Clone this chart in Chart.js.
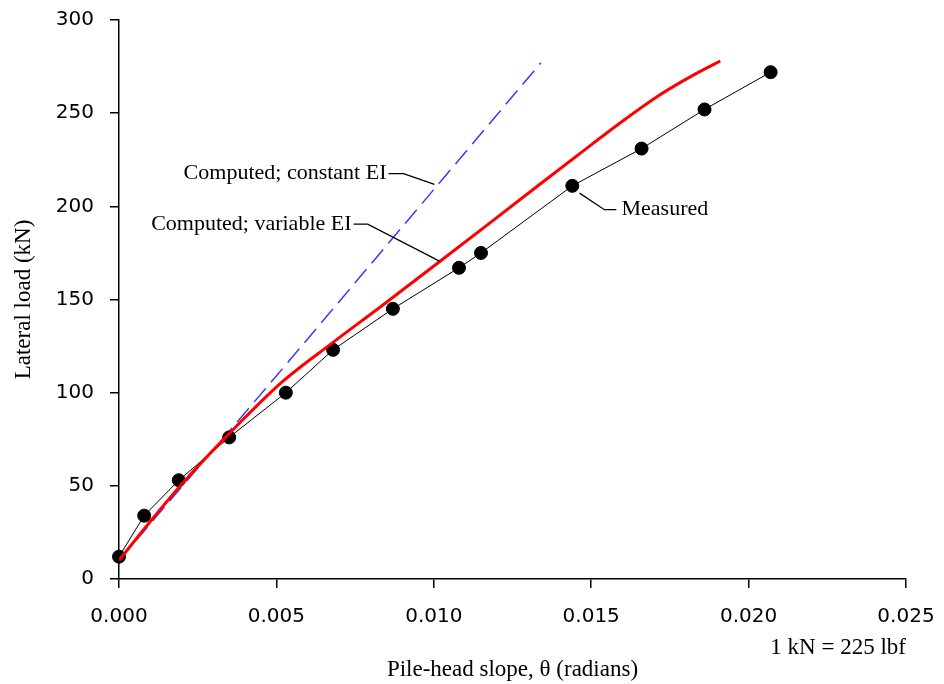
<!DOCTYPE html>
<html>
<head>
<meta charset="utf-8">
<script src="https://cdn.jsdelivr.net/npm/chart.js@4.4.1/dist/chart.umd.min.js"></script>
<style>
    html, body { margin: 0; padding: 0; background: #fff; }
    #wrap { width: 944px; height: 684px; }
</style>
</head>
<body>
<div id="wrap"><canvas id="myChart" width="944" height="684"></canvas></div>
<script>
// Mesures (points noirs)
const measuredSlope = [0, 0.0008, 0.0019, 0.0035, 0.0053, 0.0068, 0.0087, 0.0108, 0.0115, 0.0144, 0.0166, 0.0186, 0.0207];
const measuredLoad = [12, 34, 53, 76, 100, 123, 145, 167, 175, 211, 231, 252, 272];

// Calcul EI variable (courbe rouge)
const variableSlope = [0, 0.001, 0.002, 0.0035, 0.0052, 0.0068, 0.0083, 0.0102, 0.013, 0.015, 0.0161, 0.0172, 0.0182, 0.0191];
const variableLoad = [10, 31, 51, 78, 106, 127, 146, 170.5, 207, 233, 247, 260, 270, 278];

// Calcul EI constant (tirets bleus)
const constantSlope = [0, 0.005, 0.0134];
const constantLoad = [10, 109, 277];

// Graduations
const xTicks = [0, 0.005, 0.010, 0.015, 0.020, 0.025];
const yTicks = [0, 50, 100, 150, 200, 250, 300];

// Étiquettes avec leur trait de rappel (coordonnées en valeurs du graphique)
const callouts = [
    { text: 'Computed; constant EI', align: 'right', at: [0.00856, 217.6],
      leader: [[0.00856, 217.6], [0.00904, 217.6], [0.01002, 211.8]] },
    { text: 'Computed; variable EI', align: 'right', at: [0.00745, 190.4],
      leader: [[0.00745, 190.4], [0.0079, 190.4], [0.01018, 170.6]] },
    { text: 'Measured', align: 'left', at: [0.0159, 198.2],
      leader: [[0.01463, 207.1], [0.01542, 198.2], [0.0158, 198.2]] }
];

const SERIF = '"Liberation Serif", "Times New Roman", serif';
const SANS = '"DejaVu Sans", sans-serif';

function toPoints(xs, ys) {
    return xs.map((v, i) => ({ x: v, y: ys[i] }));
}

const calloutPlugin = {
    id: 'callouts',
    afterDatasetsDraw(chart) {
        const { ctx, scales: { x, y } } = chart;
        ctx.save();
        ctx.font = '22px ' + SERIF;
        ctx.fillStyle = '#000';
        ctx.strokeStyle = '#000';
        ctx.lineWidth = 1.3;
        ctx.textBaseline = 'middle';
        callouts.forEach(c => {
            ctx.textAlign = c.align;
            ctx.fillText(c.text, x.getPixelForValue(c.at[0]) + (c.align === 'left' ? 2 : -2), y.getPixelForValue(c.at[1]));
            ctx.beginPath();
            c.leader.forEach(([vx, vy], i) => {
                const px = x.getPixelForValue(vx), py = y.getPixelForValue(vy);
                if (i === 0) ctx.moveTo(px, py); else ctx.lineTo(px, py);
            });
            ctx.stroke();
        });
        // note d'unités en bas à droite
        ctx.font = '23px ' + SERIF;
        ctx.textAlign = 'right';
        ctx.fillText('1 kN = 225 lbf', x.right, 648);
        ctx.restore();
    }
};

const ctx = document.getElementById('myChart').getContext('2d');
const chart = new Chart(ctx, {
    type: 'scatter',
    data: {
        datasets: [
            {
                label: 'Computed; constant EI',
                data: toPoints(constantSlope, constantLoad),
                showLine: true,
                borderColor: '#3a3aff',
                borderWidth: 1.5,
                borderDash: [18, 8],
                pointRadius: 0,
                fill: false,
                order: 3
            },
            {
                label: 'Measured',
                data: toPoints(measuredSlope, measuredLoad),
                showLine: true,
                borderColor: '#000',
                borderWidth: 1,
                pointRadius: 6.5,
                pointBackgroundColor: '#000',
                pointBorderColor: '#000',
                clip: false,
                order: 2
            },
            {
                label: 'Computed; variable EI',
                data: toPoints(variableSlope, variableLoad),
                showLine: true,
                borderColor: '#ff0000',
                borderWidth: 3,
                cubicInterpolationMode: 'monotone',
                pointRadius: 0,
                fill: false,
                order: 1
            }
        ]
    },
    options: {
        responsive: false,
        animation: false,
        layout: { padding: { top: 20, right: 38, left: 0, bottom: 0 } },
        plugins: {
            legend: { display: false },
            tooltip: { enabled: false }
        },
        scales: {
            x: {
                type: 'linear',
                min: 0,
                max: 0.025,
                afterBuildTicks: axis => { axis.ticks = xTicks.map(v => ({ value: v })); },
                afterFit: axis => {
                    axis.height = 105;
                    axis.paddingLeft = 0;
                    axis.paddingRight = 0;
                },
                border: { color: '#000', width: 1.5 },
                grid: { drawOnChartArea: false, drawTicks: true, tickLength: 9, color: '#000', lineWidth: 1.5 },
                ticks: {
                    color: '#000',
                    padding: 17,
                    maxRotation: 0,
                    font: { family: SANS, size: 20 },
                    callback: v => Number(v).toFixed(3)
                },
                title: {
                    display: true,
                    text: 'Pile-head slope, θ (radians)',
                    color: '#000',
                    font: { family: SERIF, size: 23 },
                    padding: { top: 0, bottom: 0 }
                }
            },
            y: {
                type: 'linear',
                min: 0,
                max: 300,
                afterBuildTicks: axis => { axis.ticks = yTicks.map(v => ({ value: v })); },
                afterFit: axis => {
                    axis.width = 119;
                    axis.paddingTop = 0;
                    axis.paddingBottom = 0;
                },
                border: { color: '#000', width: 1.5 },
                grid: { drawOnChartArea: false, drawTicks: true, tickLength: 9, color: '#000', lineWidth: 1.5 },
                ticks: {
                    color: '#000',
                    padding: 16,
                    font: { family: SANS, size: 20 }
                },
                title: {
                    display: true,
                    text: 'Lateral load (kN)',
                    color: '#000',
                    font: { family: SERIF, size: 23 },
                    padding: { top: 10, bottom: 0 }
                }
            }
        }
    },
    plugins: [calloutPlugin]
});
</script>
</body>
</html>
